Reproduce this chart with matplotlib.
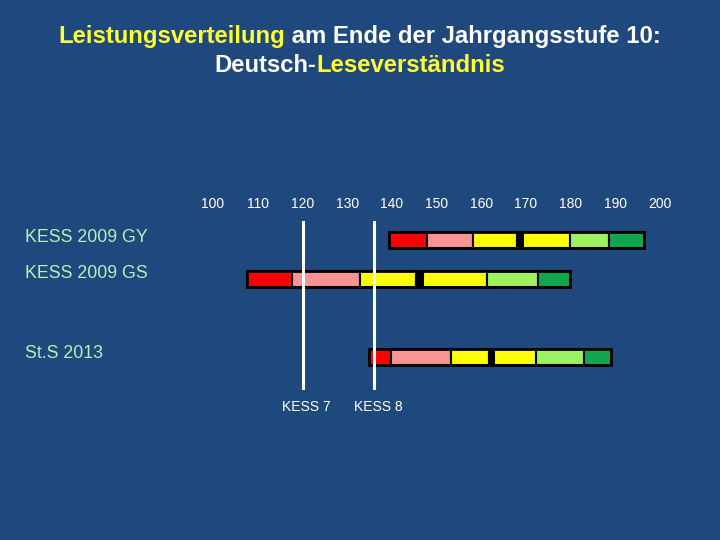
import matplotlib
matplotlib.use("Agg")
import matplotlib.pyplot as plt

# ---- data ----
ticks = [100, 110, 120, 130, 140, 150, 160, 170, 180, 190, 200]
rows = ["KESS 2009 GY", "KESS 2009 GS", "St.S 2013"]
# segment borders: red | pink | yellow | median | yellow | light green | green
gy = [139.4, 147.8, 158.1, 168.1, 169.3, 179.9, 188.6, 196.5]
gs = [107.5, 117.6, 132.9, 145.4, 146.9, 161.2, 172.6, 179.9]
sts = [135.0, 139.8, 153.2, 161.8, 162.9, 172.3, 183.0, 189.0]
borders = [gy, gs, sts]
seg_colors = ["#ff0000", "#f79494", "#ffff00", "#000000", "#ffff00", "#9cf25f", "#10a650"]
ref_names = ["KESS 7", "KESS 8"]
ref_values = [120.1, 136.1]

bg = "#1f497c"
font = "Liberation Sans"

fig = plt.figure(figsize=(7.2, 5.4), dpi=100)
fig.patch.set_facecolor(bg)
ax = fig.add_axes([0, 0, 1, 1])
ax.set_facecolor(bg)
# x in score units, y in pixel rows (top = 0)
ax.set_xlim(100 - 213 / 4.47, 100 + 507 / 4.47)
ax.set_ylim(540, 0)
ax.axis("off")


# title lines made of coloured pieces, centred afterwards
def two_color(parts, y):
    texts = []
    for i, (s, c) in enumerate(parts):
        if i == 0:
            t = fig.text(0, y, s, color=c, fontsize=17.2, fontweight="bold", family=font,
                         va="baseline", ha="left")
        else:
            t = ax.annotate(s, xy=(1, 0), xycoords=texts[-1], xytext=(0, 0), textcoords="offset points",
                            color=c, fontsize=17.2, fontweight="bold", family=font,
                            va="bottom", ha="left")
        texts.append(t)
    return texts


line1 = two_color([("Leistungsverteilung", "#ffff33"), (" am Ende der Jahrgangsstufe 10:", "white")],
                  1 - 43 / 540)
line2 = two_color([("Deutsch-", "white"), ("Leseverständnis", "#ffff33")], 1 - 72 / 540)

fig.canvas.draw()
r = fig.canvas.get_renderer()
for line in [line1, line2]:
    x0 = line[0].get_window_extent(r).x0
    x1 = line[-1].get_window_extent(r).x1
    line[0].set_x((720 - (x1 - x0)) / 2 / 720)

# tick labels
for v in ticks:
    ax.text(v, 204, str(v), color="white", fontsize=10, family=font,
            ha="center", va="center")

# bars
row_y = [240, 279, 357]
for y, b in zip(row_y, borders):
    for i in range(len(b) - 1):
        ax.barh(y, b[i + 1] - b[i], left=b[i], height=16, color=seg_colors[i],
                edgecolor="black", linewidth=1.5, zorder=2)
    ax.barh(y, b[-1] - b[0], left=b[0], height=16, fill=False,
            edgecolor="black", linewidth=2, zorder=3)

# row labels
label_y = [237, 273, 353]
for name, y in zip(rows, label_y):
    ax.text(25 / 4.47 + 100 - 213 / 4.47, y, name, color="#b8eeb8", fontsize=12.8,
            family=font, ha="left", va="center")

# reference lines
for name, v in zip(ref_names, ref_values):
    ax.plot([v, v], [222, 388], color="white", linewidth=2.2, zorder=4)
    ax.text(v + 0.8, 407, name, color="white", fontsize=10, family=font,
            ha="center", va="center")

fig.savefig("out.png", dpi=100, facecolor=bg)
